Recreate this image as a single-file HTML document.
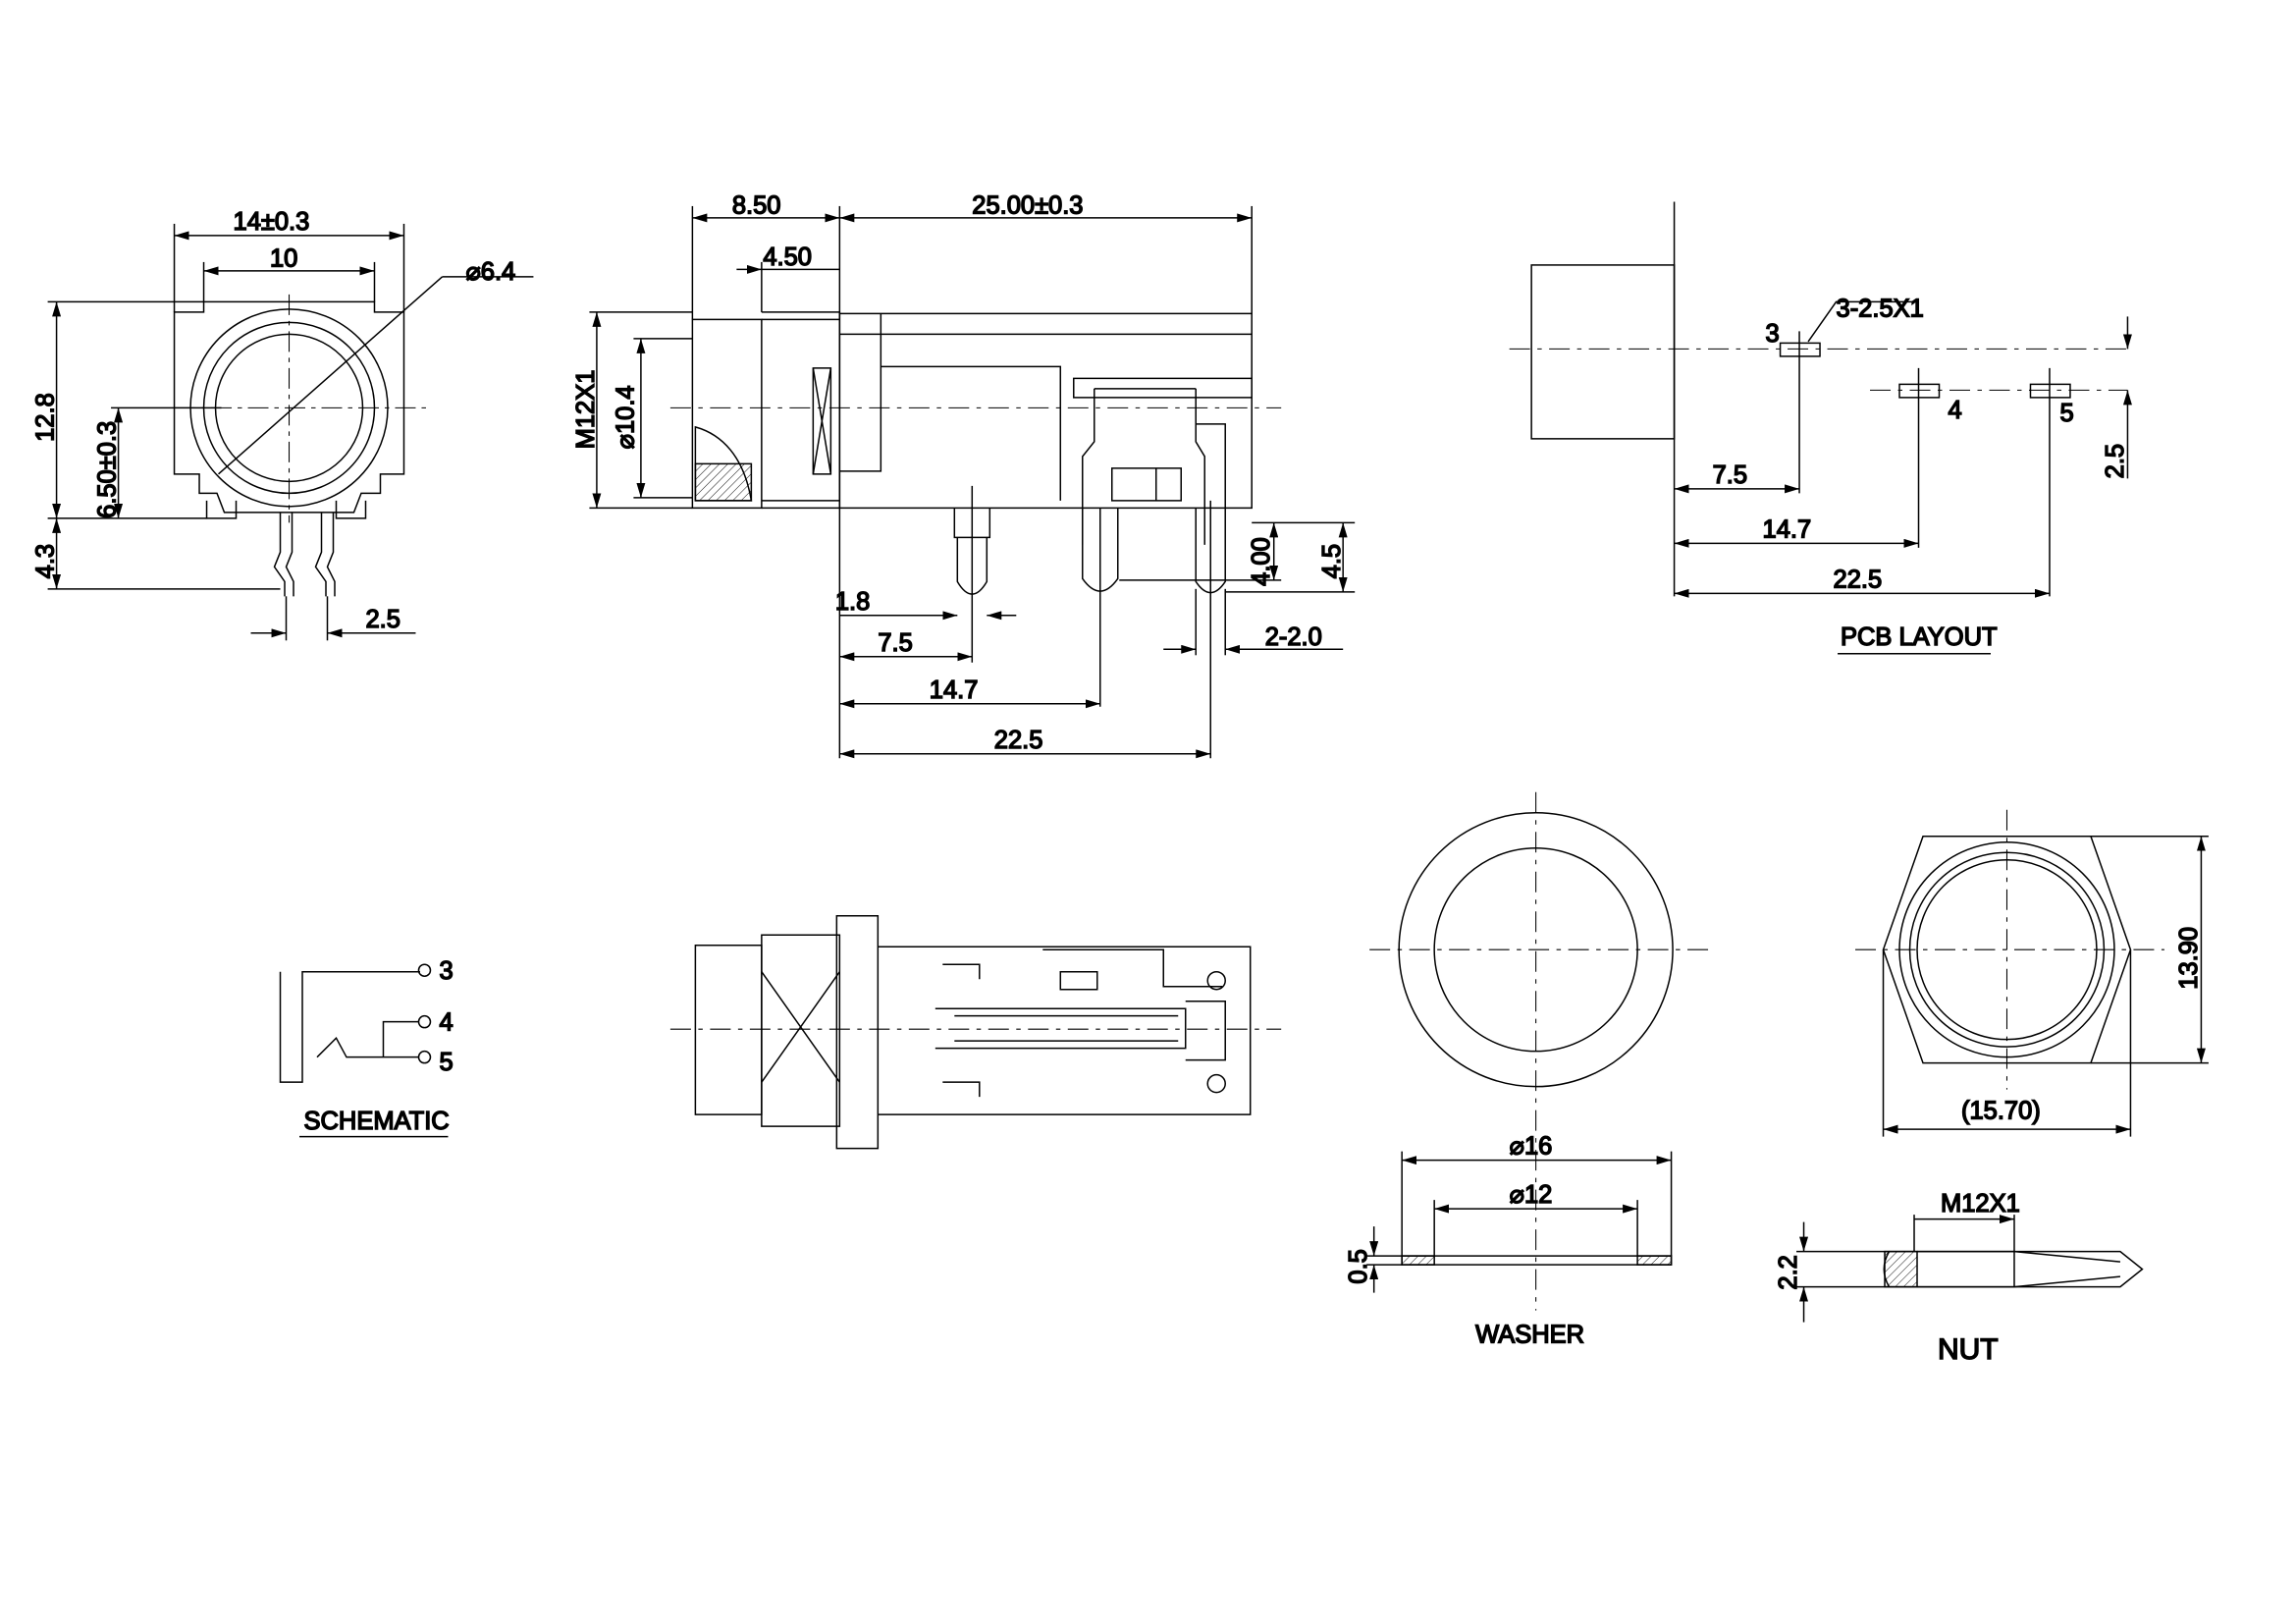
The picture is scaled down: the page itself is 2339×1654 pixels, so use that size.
<!DOCTYPE html>
<html><head><meta charset="utf-8"><style>
html,body{margin:0;padding:0;background:#fff;}
svg{display:block;}
text{font-family:"Liberation Sans",sans-serif;font-size:17px;fill:#000;}
</style></head><body>
<svg width="2339" height="1654" viewBox="0 0 1559 1103" xmlns="http://www.w3.org/2000/svg" fill="none" stroke="#000" stroke-width="1">
<defs>
<marker id="a" viewBox="0 0 10 6" refX="10" refY="3" markerWidth="10" markerHeight="6" orient="auto-start-reverse" markerUnits="userSpaceOnUse"><path d="M0,0L10,3L0,6z" fill="#000" stroke="none"/></marker>
<pattern id="h" width="4" height="4" patternUnits="userSpaceOnUse" patternTransform="rotate(45)"><line x1="0" y1="0" x2="0" y2="4" stroke="#000" stroke-width="0.6"/></pattern>
</defs>
<g stroke-dasharray="none">
<!-- FRONT VIEW -->
<path d="M118,212 H138 V205 H254 V212 H274 V322 H258 V335 H245 L240,348 H152 L147,335 H135 V322 H118 Z"/>
<circle cx="196" cy="277" r="67"/><circle cx="196" cy="277" r="58"/><circle cx="196" cy="277" r="50"/>
<line x1="118" y1="277" x2="290" y2="277" stroke-dasharray="14,4,3,4" stroke-width="0.7"/>
<line x1="196" y1="200" x2="196" y2="355" stroke-dasharray="14,4,3,4" stroke-width="0.7"/>
<path d="M140,340 V352 H160 V340 M228,340 V352 H248 V340"/>
<path d="M190,348 V375 L186,385 L193,395 V405 M198,348 V375 L194,385 L199,395 V405"/>
<path d="M218,348 V375 L214,385 L221,395 V405 M226,348 V375 L222,385 L227,395 V405"/>
<line x1="148" y1="322" x2="300" y2="188"/>
<line x1="300" y1="188" x2="362" y2="188"/>
<text x="316" y="190">⌀6.4</text>
<line x1="118" y1="212" x2="118" y2="152"/><line x1="274" y1="212" x2="274" y2="152"/>
<line x1="118" y1="160" x2="274" y2="160" marker-start="url(#a)" marker-end="url(#a)"/>
<text x="158" y="156">14±0.3</text>
<line x1="138" y1="205" x2="138" y2="178"/><line x1="254" y1="205" x2="254" y2="178"/>
<line x1="138" y1="184" x2="254" y2="184" marker-start="url(#a)" marker-end="url(#a)"/>
<text x="183" y="181">10</text>
<line x1="32" y1="205" x2="138" y2="205"/><line x1="32" y1="352" x2="140" y2="352"/>
<line x1="38" y1="205" x2="38" y2="352" marker-start="url(#a)" marker-end="url(#a)"/>
<line x1="32" y1="400" x2="190" y2="400"/>
<line x1="38" y1="352" x2="38" y2="400" marker-start="url(#a)" marker-end="url(#a)"/>
<line x1="75" y1="277" x2="150" y2="277"/>
<line x1="80" y1="277" x2="80" y2="352" marker-start="url(#a)" marker-end="url(#a)"/>
<text transform="translate(36,300) rotate(-90)">12.8</text>
<text transform="translate(78,352) rotate(-90)">6.50±0.3</text>
<text transform="translate(36,393) rotate(-90)">4.3</text>
<line x1="194" y1="405" x2="194" y2="435"/><line x1="222" y1="405" x2="222" y2="435"/>
<line x1="170" y1="430" x2="194" y2="430" marker-end="url(#a)"/>
<line x1="222" y1="430" x2="282" y2="430" marker-start="url(#a)"/>
<text x="248" y="426">2.5</text>

<!-- SIDE VIEW -->
<path d="M470,217 H517 V345 H470 Z"/>
<path d="M517,212 H570 V345 H517"/>
<line x1="517" y1="217" x2="570" y2="217"/><line x1="517" y1="340" x2="570" y2="340"/>
<path d="M570,213 H850 V345 H570 Z"/>
<path d="M598,213 V227 H850 M570,227 H598 M598,227 V320 H570"/>
<path d="M598,249 H720 V340"/>
<path d="M729,257 H850 V270 H729 Z"/>
<path d="M743,264 V300 L735,310 V370 M812,264 V300 L818,310 V370 M743,264 H812"/>
<path d="M755,318 H802 V340 H755 Z M755,318 V340 M785,318 V340"/>
<path d="M812,288 H832 V345 M832,288 V312"/>
<rect x="552" y="250" width="12" height="72"/>
<path d="M552,250 L564,322 M564,250 L552,322"/>
<path d="M472,290 C490,295 505,310 510,340 H472 Z"/>
<rect x="472" y="315" width="38" height="25" fill="url(#h)"/>
<line x1="455" y1="277" x2="870" y2="277" stroke-dasharray="14,5,3,5" stroke-width="0.7"/>
<path d="M648,345 V365 H672 V345 M650,365 V395 Q660,412 670,395 V365"/>
<path d="M735,345 V393 Q747,410 759,393 V345"/>
<path d="M812,345 V395 Q822,410 832,395 V345"/>
<line x1="660" y1="330" x2="660" y2="450"/><line x1="747" y1="345" x2="747" y2="480"/><line x1="822" y1="340" x2="822" y2="515"/>
<line x1="470" y1="217" x2="470" y2="140"/><line x1="570" y1="213" x2="570" y2="140"/><line x1="850" y1="213" x2="850" y2="140"/>
<line x1="517" y1="212" x2="517" y2="178"/>
<line x1="470" y1="148" x2="570" y2="148" marker-start="url(#a)" marker-end="url(#a)"/>
<line x1="570" y1="148" x2="850" y2="148" marker-start="url(#a)" marker-end="url(#a)"/>
<text x="497" y="145">8.50</text><text x="660" y="145">25.00±0.3</text>
<line x1="517" y1="183" x2="570" y2="183"/>
<line x1="500" y1="183" x2="517" y2="183" marker-end="url(#a)"/>
<text x="518" y="180">4.50</text>
<line x1="400" y1="212" x2="470" y2="212"/><line x1="400" y1="345" x2="470" y2="345"/>
<line x1="405" y1="212" x2="405" y2="345" marker-start="url(#a)" marker-end="url(#a)"/>
<line x1="430" y1="230" x2="470" y2="230"/><line x1="430" y1="338" x2="470" y2="338"/>
<line x1="435" y1="230" x2="435" y2="338" marker-start="url(#a)" marker-end="url(#a)"/>
<text transform="translate(403,305) rotate(-90)">M12X1</text>
<text transform="translate(430,305) rotate(-90)">⌀10.4</text>
<line x1="570" y1="345" x2="570" y2="515"/>
<line x1="570" y1="418" x2="648" y2="418"/>
<line x1="630" y1="418" x2="650" y2="418" marker-end="url(#a)"/>
<line x1="670" y1="418" x2="690" y2="418" marker-start="url(#a)"/>
<text x="567" y="414">1.8</text>
<line x1="570" y1="446" x2="660" y2="446" marker-start="url(#a)" marker-end="url(#a)"/><text x="596" y="442">7.5</text>
<line x1="570" y1="478" x2="747" y2="478" marker-start="url(#a)" marker-end="url(#a)"/><text x="631" y="474">14.7</text>
<line x1="570" y1="512" x2="822" y2="512" marker-start="url(#a)" marker-end="url(#a)"/><text x="675" y="508">22.5</text>
<line x1="790" y1="441" x2="812" y2="441" marker-end="url(#a)"/>
<line x1="832" y1="441" x2="912" y2="441" marker-start="url(#a)"/>
<line x1="812" y1="400" x2="812" y2="445"/><line x1="832" y1="400" x2="832" y2="445"/>
<text x="859" y="438">2-2.0</text>
<line x1="850" y1="355" x2="920" y2="355"/><line x1="760" y1="394" x2="870" y2="394"/><line x1="832" y1="402" x2="920" y2="402"/>
<line x1="865" y1="355" x2="865" y2="394" marker-start="url(#a)" marker-end="url(#a)"/>
<line x1="912" y1="355" x2="912" y2="402" marker-start="url(#a)" marker-end="url(#a)"/>
<text transform="translate(862,398) rotate(-90)">4.00</text>
<text transform="translate(910,393) rotate(-90)">4.5</text>

<!-- PCB LAYOUT -->
<rect x="1040" y="180" width="97" height="118"/>
<line x1="1137" y1="137" x2="1137" y2="405"/>
<line x1="1025" y1="237" x2="1445" y2="237" stroke-dasharray="14,5,3,5" stroke-width="0.7"/>
<line x1="1270" y1="265" x2="1445" y2="265" stroke-dasharray="14,5,3,5" stroke-width="0.7"/>
<rect x="1209" y="233" width="27" height="9"/>
<rect x="1290" y="261" width="27" height="9"/>
<rect x="1379" y="261" width="27" height="9"/>
<line x1="1222" y1="225" x2="1222" y2="335"/><line x1="1303" y1="250" x2="1303" y2="372"/><line x1="1392" y1="250" x2="1392" y2="405"/>
<line x1="1137" y1="332" x2="1222" y2="332" marker-start="url(#a)" marker-end="url(#a)"/><text x="1163" y="328">7.5</text>
<line x1="1137" y1="369" x2="1303" y2="369" marker-start="url(#a)" marker-end="url(#a)"/><text x="1197" y="365">14.7</text>
<line x1="1137" y1="403" x2="1392" y2="403" marker-start="url(#a)" marker-end="url(#a)"/><text x="1245" y="399">22.5</text>
<line x1="1445" y1="215" x2="1445" y2="237" marker-end="url(#a)"/>
<line x1="1445" y1="265" x2="1445" y2="325" marker-start="url(#a)"/>
<text transform="translate(1442,325) rotate(-90)">2.5</text>
<path d="M1228,232 L1247,205 H1300"/><text x="1247" y="215">3-2.5X1</text>
<text x="1199" y="232">3</text><text x="1323" y="284">4</text><text x="1399" y="286">5</text>
<text x="1250" y="438">PCB LAYOUT</text><line x1="1248" y1="444" x2="1352" y2="444"/>

<!-- SCHEMATIC -->
<path d="M190,660 V735 H205 V660 H285"/>
<circle cx="288" cy="659" r="4"/><circle cx="288" cy="694" r="4"/><circle cx="288" cy="718" r="4"/>
<path d="M284,694 H260 V718 M215,718 L228,705 L235,718 H284"/>
<text x="298" y="665">3</text><text x="298" y="700">4</text><text x="298" y="727">5</text>
<text x="206" y="767">SCHEMATIC</text><line x1="203" y1="772" x2="304" y2="772"/>

<!-- BOTTOM VIEW -->
<path d="M472,642 H517 V757 H472 Z"/>
<path d="M517,635 H570 V765 H517 Z"/>
<path d="M517,660 L570,735 M570,660 L517,735"/>
<path d="M568,622 H596 V780 H568 Z"/>
<path d="M596,643 H849 V757 H596"/>
<path d="M640,655 H665 V665 M640,735 H665 V745"/>
<path d="M708,645 H790 V670 H830 M720,660 H745 V672 H720 Z"/>
<path d="M635,685 H805 V712 H635 M648,690 H800 M648,707 H800 M805,680 H832 V720 H805"/>
<circle cx="826" cy="666" r="6"/><circle cx="826" cy="736" r="6"/>
<line x1="455" y1="699" x2="870" y2="699" stroke-dasharray="14,5,3,5" stroke-width="0.7"/>

<!-- WASHER -->
<circle cx="1043" cy="645" r="93"/><circle cx="1043" cy="645" r="69"/>
<line x1="930" y1="645" x2="1160" y2="645" stroke-dasharray="14,5,3,5" stroke-width="0.7"/>
<line x1="1043" y1="538" x2="1043" y2="890" stroke-dasharray="14,5,3,5" stroke-width="0.7"/>
<rect x="952" y="853" width="183" height="6"/>
<rect x="952" y="853" width="22" height="6" fill="url(#h)"/><rect x="1112" y="853" width="23" height="6" fill="url(#h)"/>
<line x1="952" y1="782" x2="952" y2="853"/><line x1="1135" y1="782" x2="1135" y2="853"/>
<line x1="952" y1="788" x2="1135" y2="788" marker-start="url(#a)" marker-end="url(#a)"/><text x="1025" y="784">⌀16</text>
<line x1="974" y1="815" x2="974" y2="853"/><line x1="1112" y1="815" x2="1112" y2="853"/>
<line x1="974" y1="821" x2="1112" y2="821" marker-start="url(#a)" marker-end="url(#a)"/><text x="1025" y="817">⌀12</text>
<line x1="928" y1="853" x2="952" y2="853"/><line x1="928" y1="859" x2="952" y2="859"/>
<line x1="933" y1="833" x2="933" y2="853" marker-end="url(#a)"/><line x1="933" y1="859" x2="933" y2="878" marker-start="url(#a)"/>
<text transform="translate(928,872) rotate(-90)">0.5</text>
<text x="1002" y="912">WASHER</text>

<!-- NUT -->
<path d="M1306,568 H1420 L1447,645 L1420,722 H1306 L1279,645 Z"/>
<circle cx="1363" cy="645" r="73"/><circle cx="1363" cy="645" r="66"/><circle cx="1363" cy="645" r="61"/>
<line x1="1260" y1="645" x2="1470" y2="645" stroke-dasharray="14,5,3,5" stroke-width="0.7"/>
<line x1="1363" y1="550" x2="1363" y2="740" stroke-dasharray="14,5,3,5" stroke-width="0.7"/>
<line x1="1420" y1="568" x2="1500" y2="568"/><line x1="1420" y1="722" x2="1500" y2="722"/>
<line x1="1495" y1="568" x2="1495" y2="722" marker-start="url(#a)" marker-end="url(#a)"/>
<text transform="translate(1492,672) rotate(-90)">13.90</text>
<line x1="1279" y1="645" x2="1279" y2="772"/><line x1="1447" y1="645" x2="1447" y2="772"/>
<line x1="1279" y1="767" x2="1447" y2="767" marker-start="url(#a)" marker-end="url(#a)"/>
<text x="1332" y="760">(15.70)</text>
<path d="M1283,850 H1440 L1455,862 L1440,874 H1283 Q1276,862 1283,850 Z"/>
<rect x="1280" y="850" width="22" height="24" fill="url(#h)"/>
<path d="M1302,850 H1368 V874 H1302 M1368,850 L1440,857 M1368,874 L1440,867"/>
<line x1="1300" y1="825" x2="1300" y2="850"/><line x1="1368" y1="825" x2="1368" y2="850"/>
<line x1="1300" y1="828" x2="1368" y2="828" marker-end="url(#a)"/><text x="1318" y="823">M12X1</text>
<line x1="1220" y1="850" x2="1283" y2="850"/><line x1="1220" y1="874" x2="1283" y2="874"/>
<line x1="1225" y1="830" x2="1225" y2="850" marker-end="url(#a)"/><line x1="1225" y1="874" x2="1225" y2="898" marker-start="url(#a)"/>
<text transform="translate(1220,876) rotate(-90)">2.2</text>
<text x="1316" y="923" style="font-size:20px">NUT</text>
</g>
</svg>
</body></html>
